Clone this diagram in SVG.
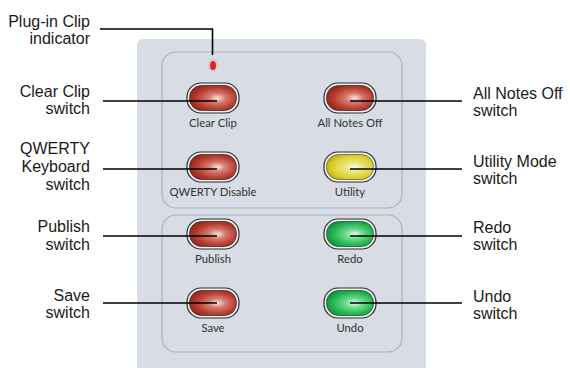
<svg xmlns="http://www.w3.org/2000/svg" width="570" height="368" viewBox="0 0 570 368">
  <defs>
    <style>
      .callout { font-family: "Liberation Sans", Arial, sans-serif; font-size: 16px; fill: #1a1a1a; }
      .left { text-anchor: end; }
      .cap { font-family: "Lato", "Liberation Sans", sans-serif; font-size: 11.3px; fill: #333; text-anchor: middle; }
      .lead { stroke: #000; stroke-width: 1.6; fill: none; }
      .bezel { fill: #f2f3f5; stroke: #2a2a2a; stroke-width: 1.2; }
      .edge { stroke: #4a2a28; stroke-width: 0.8; }
      .red { fill: url(#gRed); }
      .green { fill: url(#gGreen); stroke: #1d5a2e; stroke-width: 0.8; }
      .yellow { fill: url(#gYellow); stroke: #6a6420; stroke-width: 0.8; }
      .frame { fill: none; stroke: #a9b0c6; stroke-width: 1.2; }
    </style>
    <radialGradient id="gRed" cx="0.56" cy="0.52" r="0.62" fx="0.6" fy="0.5">
      <stop offset="0" stop-color="#f8e2dc"/>
      <stop offset="0.3" stop-color="#d67a6e"/>
      <stop offset="0.7" stop-color="#b43a2e"/>
      <stop offset="1" stop-color="#8a2418"/>
    </radialGradient>
    <radialGradient id="gGreen" cx="0.56" cy="0.52" r="0.62" fx="0.6" fy="0.5">
      <stop offset="0" stop-color="#e2f8e6"/>
      <stop offset="0.3" stop-color="#6fdc8c"/>
      <stop offset="0.7" stop-color="#22b450"/>
      <stop offset="1" stop-color="#128a38"/>
    </radialGradient>
    <radialGradient id="gYellow" cx="0.56" cy="0.52" r="0.62" fx="0.6" fy="0.5">
      <stop offset="0" stop-color="#fbfbe0"/>
      <stop offset="0.3" stop-color="#ece67a"/>
      <stop offset="0.7" stop-color="#dcd034"/>
      <stop offset="1" stop-color="#b8aa14"/>
    </radialGradient>
    <!-- one switch: bezel + lit lens, origin at the bezel's top-left -->
    <g id="btnRed">
      <rect class="bezel" x="0" y="0" width="52" height="30" rx="14"/>
      <rect class="red edge" x="2.5" y="2.5" width="47" height="25" rx="12"/>
    </g>
    <g id="btnGreen">
      <rect class="bezel" x="0" y="0" width="52" height="30" rx="14"/>
      <rect class="green" x="2.5" y="2.5" width="47" height="25" rx="12"/>
    </g>
    <g id="btnYellow">
      <rect class="bezel" x="0" y="0" width="52" height="30" rx="14"/>
      <rect class="yellow" x="2.5" y="2.5" width="47" height="25" rx="12"/>
    </g>
  </defs>

  <rect width="570" height="368" fill="#fff"/>

  <!-- panel body and its two framed sections -->
  <g id="panel">
    <rect x="137" y="39" width="289" height="340" rx="6" fill="#d8dce4"/>
    <rect class="frame" x="162" y="52" width="240" height="156" rx="14"/>
    <rect class="frame" x="162" y="215" width="240" height="137" rx="14"/>
  </g>

  <g id="clip-led">
    <ellipse cx="213" cy="65.5" rx="3" ry="4.6" fill="#d8262a"/>
    <ellipse cx="213" cy="65.5" rx="4.2" ry="5.8" fill="none" stroke="#e29a9a" stroke-width="1" opacity="0.5"/>
  </g>

  <g id="clear-clip">
    <use href="#btnRed" x="187" y="83"/>
    <text class="cap" x="213" y="127">Clear Clip</text>
  </g>
  <g id="all-notes-off">
    <use href="#btnRed" x="324" y="83"/>
    <text class="cap" x="350" y="127">All Notes Off</text>
  </g>
  <g id="qwerty-disable">
    <use href="#btnRed" x="187" y="152"/>
    <text class="cap" x="213" y="196">QWERTY Disable</text>
  </g>
  <g id="utility">
    <use href="#btnYellow" x="324" y="152"/>
    <text class="cap" x="350" y="196">Utility</text>
  </g>
  <g id="publish">
    <use href="#btnRed" x="187" y="219"/>
    <text class="cap" x="213" y="263">Publish</text>
  </g>
  <g id="redo">
    <use href="#btnGreen" x="324" y="219"/>
    <text class="cap" x="350" y="263">Redo</text>
  </g>
  <g id="save">
    <use href="#btnRed" x="187" y="288"/>
    <text class="cap" x="213" y="332">Save</text>
  </g>
  <g id="undo">
    <use href="#btnGreen" x="324" y="288"/>
    <text class="cap" x="350" y="332">Undo</text>
  </g>

  <!-- leader lines from callouts to controls -->
  <g id="connectors">
    <polyline class="lead" points="100,29 212.5,29 212.5,55"/>
    <line class="lead" x1="103" y1="101" x2="217" y2="101"/>
    <line class="lead" x1="103" y1="169" x2="217" y2="169"/>
    <line class="lead" x1="103" y1="236" x2="217" y2="236"/>
    <line class="lead" x1="103" y1="303" x2="217" y2="303"/>
    <line class="lead" x1="350" y1="101" x2="462" y2="101"/>
    <line class="lead" x1="350" y1="169" x2="462" y2="169"/>
    <line class="lead" x1="350" y1="236" x2="462" y2="236"/>
    <line class="lead" x1="350" y1="303" x2="462" y2="303"/>
  </g>

  <!-- callout labels -->
  <g id="label-clip-indicator" class="callout left">
    <text x="90" y="27">Plug-in Clip</text>
    <text x="90" y="44">indicator</text>
  </g>
  <g id="label-clear-clip" class="callout left">
    <text x="90" y="97">Clear Clip</text>
    <text x="90" y="114">switch</text>
  </g>
  <g id="label-qwerty" class="callout left">
    <text x="90" y="154">QWERTY</text>
    <text x="90" y="172">Keyboard</text>
    <text x="90" y="190">switch</text>
  </g>
  <g id="label-publish" class="callout left">
    <text x="90" y="232">Publish</text>
    <text x="90" y="250">switch</text>
  </g>
  <g id="label-save" class="callout left">
    <text x="90" y="301">Save</text>
    <text x="90" y="318">switch</text>
  </g>
  <g id="label-all-notes-off" class="callout">
    <text x="473" y="99">All Notes Off</text>
    <text x="473" y="116">switch</text>
  </g>
  <g id="label-utility" class="callout">
    <text x="473" y="167">Utility Mode</text>
    <text x="473" y="184">switch</text>
  </g>
  <g id="label-redo" class="callout">
    <text x="473" y="233">Redo</text>
    <text x="473" y="250">switch</text>
  </g>
  <g id="label-undo" class="callout">
    <text x="473" y="302">Undo</text>
    <text x="473" y="319">switch</text>
  </g>
</svg>
